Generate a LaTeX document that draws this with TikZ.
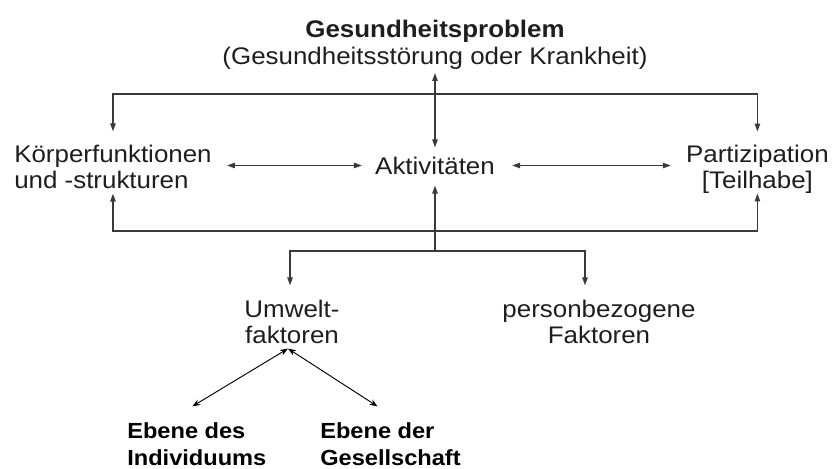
\documentclass[tikz,border=0pt]{standalone}
\usepackage{fontspec}
\setmainfont{Liberation Sans}[FakeStretch=1.08]
\usetikzlibrary{arrows.meta,calc}
\definecolor{ln}{HTML}{3A3A3A}
\definecolor{tx}{HTML}{1E1E1E}
\begin{document}
\begin{tikzpicture}[x=0.75pt,y=-0.75pt,
  txt/.style={inner sep=0pt,text=tx,font=\fontsize{18}{19.5}\selectfont},
  btxt/.style={inner sep=0pt,text=black,font=\fontsize{16.4}{20}\selectfont\bfseries},
  conn/.style={draw=ln,line width=1.1pt},
  dbl/.style={conn,{Triangle[length=6pt,width=4pt]}-{Triangle[length=6pt,width=4pt]}},
  arr/.style={conn,-{Triangle[length=6pt,width=4pt]}},
  fine/.style={draw=black,line width=0.7pt,{Stealth[length=6pt,width=4.5pt]}-{Stealth[length=6pt,width=4.5pt]}}]
\useasboundingbox (0,0) rectangle (834,468);

\node[txt,align=center,font=\fontsize{18}{20.25}\selectfont] (t) at (435,45)
  {\textbf{Gesundheitsproblem}\\(Gesundheitsstörung oder Krankheit)};
\node[txt,align=left,anchor=west] (k) at (14,166.5) {Körperfunktionen\\und -strukturen};
\node[txt] (a) at (435,165.5) {Aktivitäten};
\node[txt,align=center,anchor=east] (p) at (829,169) {Partizipation\\{[Teilhabe]}};
\node[txt,align=center] (u) at (292,321.5) {Umwelt-\\faktoren};
\node[txt,align=center] (pb) at (599,321.5) {personbezogene\\Faktoren};
\node[btxt,align=left,anchor=west] (e1) at (127,444) {Ebene des\\Individuums};
\node[btxt,align=left,anchor=west] (e2) at (320,444) {Ebene der\\Gesellschaft};

\coordinate (topbar) at (435,94);
\coordinate (botbar) at (435,231);
\coordinate (branch) at (435,251);

% title <-> Aktivitaeten
\draw[dbl] ($(t.south)+(0,3)$) -- ($(a.north)+(0,-9)$);
% top bar
\draw[dbl] ($(k.north)+(0,-13)$) |- (topbar) -| ($(p.north)+(0,-13)$);
% bottom bar
\draw[dbl] ($(k.south)+(0,5)$) |- (botbar) -| ($(p.south)+(0,0)$);
% horizontal links
\draw[dbl] ($(k.east |- a.west)+(15,0)$) -- ($(a.west)+(-13,0)$);
\draw[dbl] ($(a.east)+(17,0)$) -- ($(p.west |- a.east)+(-15,0)$);
% context factors
\draw[arr] (branch) -- ($(a.south)+(0,11)$);
\draw[dbl] ($(u.north)+(-2,-14)$) |- (branch) -| ($(pb.north)+(-14,-14)$);
% Umwelt levels
\coordinate (apex) at ($(u.south)+(-4,5)$);
\draw[fine] (apex) -- ($(e1.north)+(-4.5,-16)$);
\draw[fine] (apex) -- ($(e2.north)+(-13,-16)$);
\end{tikzpicture}
\end{document}
